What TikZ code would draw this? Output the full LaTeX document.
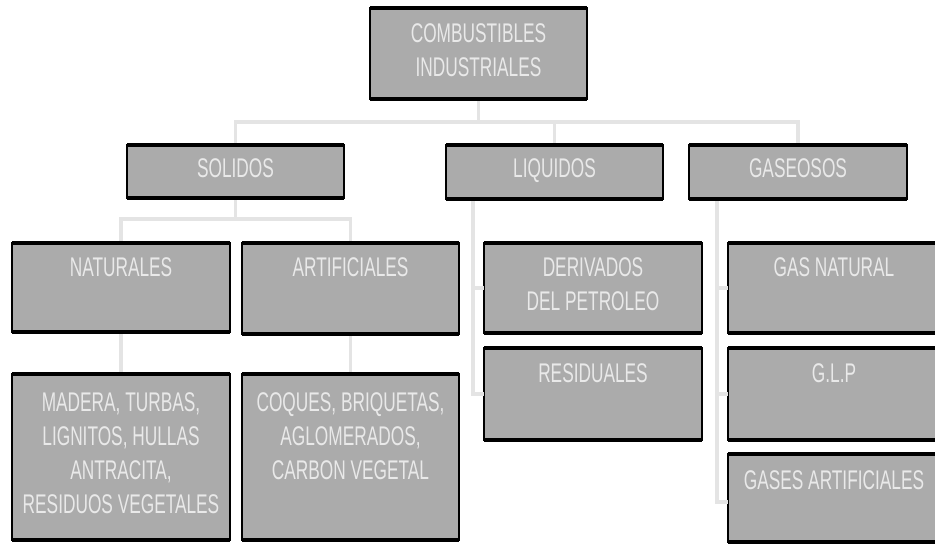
\documentclass[tikz,border=0pt]{standalone}
\usepackage{fontspec}
\setmainfont[FakeStretch=0.64]{Liberation Sans}
\usetikzlibrary{positioning}
\definecolor{boxgray}{HTML}{ABABAB}
\definecolor{txtgray}{HTML}{E9E9E9}
\definecolor{lingray}{HTML}{E4E4E4}
\tikzset{
  caja/.style={draw=black, line width=1.2pt, fill=boxgray, inner sep=0pt, outer sep=0pt, anchor=north west},
  rotulo/.style={text=txtgray, font=\fontsize{27}{34}\selectfont, align=center, inner sep=0pt, anchor=north},
  rama/.style={draw=lingray, line width=3.5pt}
}
\begin{document}
\begin{tikzpicture}[x=1pt,y=-1pt]
        \useasboundingbox (0,0) rectangle (935,544);
        % cajas
        \node[caja, minimum width=217pt, minimum height=91pt] (comb) at (370,8) {};
        \node[caja, minimum width=217pt, minimum height=53pt] (sol) at (127,145) {};
        \node[caja, minimum width=217pt, minimum height=54pt] (liq) at (446,145) {};
        \node[caja, minimum width=218pt, minimum height=54pt] (gas) at (689,145) {};
        \node[caja, minimum width=218pt, minimum height=89pt] (nat) at (12,243) {};
        \node[caja, minimum width=217pt, minimum height=91pt] (art) at (242,243) {};
        \node[caja, minimum width=218pt, minimum height=90pt] (der) at (484,243) {};
        \node[caja, minimum width=218pt, minimum height=92pt] (res) at (484,348) {};
        \node[caja, minimum width=212pt, minimum height=90pt] (gasn) at (728,243) {};
        \node[caja, minimum width=212pt, minimum height=92pt] (glp) at (728,348) {};
        \node[caja, minimum width=212pt, minimum height=88pt] (gasa) at (728,454) {};
        \node[caja, minimum width=218pt, minimum height=166pt] (mad) at (12,374) {};
        \node[caja, minimum width=217pt, minimum height=166pt] (coq) at (242,374) {};
        % ramas
        \draw[rama] (comb.south) -- ++(0,23) coordinate (b1);
        \draw[rama] (sol.north) |- (b1) -| (gas.north);
        \draw[rama] (b1 -| liq.north) -- (liq.north);
        \draw[rama] (sol.south) -- ++(0,21) coordinate (b2);
        \draw[rama] (nat.north) |- (b2) -| (art.north);
        \draw[rama] (nat.south) -- (mad.north);
        \draw[rama] (art.south) -- (coq.north);
        \coordinate (lq) at ([xshift=27pt]liq.south west);
        \draw[rama] (lq) |- (res.west);
        \draw[rama] (der.west) -- (der.west -| lq);
        \coordinate (gq) at ([xshift=28pt]gas.south west);
        \draw[rama] (gq) |- ([yshift=-4pt]gasa.west);
        \draw[rama] (gasn.west) -- (gasn.west -| gq);
        \draw[rama] (glp.west) -- (glp.west -| gq);
        \foreach \n in {comb,sol,liq,gas,nat,art,der,res,gasn,glp,gasa,mad,coq}{
            \draw[line width=3.5pt] (\n.north west) -- (\n.north east) (\n.south west) -- (\n.south east);
        }
        % textos
        \node[rotulo, below=15pt of comb.north] (comb-t) {COMBUSTIBLES\\INDUSTRIALES};
        \node[rotulo, below=13pt of sol.north] (sol-t) {SOLIDOS};
        \node[rotulo, below=13pt of liq.north] (liq-t) {LIQUIDOS};
        \node[rotulo, below=13pt of gas.north] (gas-t) {GASEOSOS};
        \node[rotulo, below=14pt of nat.north] (nat-t) {NATURALES};
        \node[rotulo, below=14pt of art.north] (art-t) {ARTIFICIALES};
        \node[rotulo, below=14pt of der.north] (der-t) {DERIVADOS\\DEL PETROLEO};
        \node[rotulo, below=15pt of res.north] (res-t) {RESIDUALES};
        \node[rotulo, below=14pt of gasn.north] (gasn-t) {GAS NATURAL};
        \node[rotulo, below=15pt of glp.north] (glp-t) {G.L.P};
        \node[rotulo, below=16pt of gasa.north] (gasa-t) {GASES ARTIFICIALES};
        \node[rotulo, below=18pt of mad.north] (mad-t) {MADERA, TURBAS,\\LIGNITOS, HULLAS\\ANTRACITA,\\RESIDUOS VEGETALES};
        \node[rotulo, below=18pt of coq.north] (coq-t) {COQUES, BRIQUETAS,\\AGLOMERADOS,\\CARBON VEGETAL};
    \end{tikzpicture}
\end{document}
